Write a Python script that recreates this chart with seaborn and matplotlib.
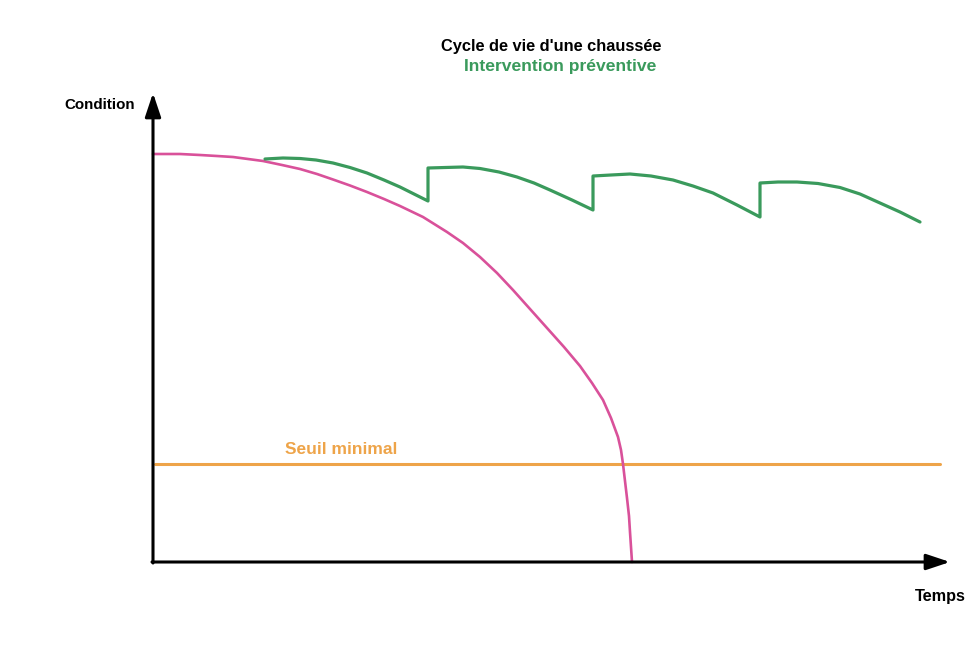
import matplotlib
matplotlib.use("Agg")
import matplotlib.pyplot as plt
import seaborn as sns
import pandas as pd

# ---- data (time, condition units) ----
pink_t = [0, 27, 47, 64, 80, 95, 110, 129, 147, 164, 180, 197, 214, 231, 247, 270,
          294, 310, 327, 344, 360, 377, 394, 411, 427, 439, 450, 458, 465, 468,
          470, 472, 474, 476, 477, 478, 479]
pink_c = [408, 408, 407, 406, 405, 403, 401, 397, 393, 388, 382.5, 376.5, 370, 363, 356, 345,
          330, 319, 305, 289, 272, 253, 234, 215, 196, 179, 162, 144, 125, 112,
          98, 81, 64, 46, 30, 15, 0]

green_t = [112, 130, 147, 163, 180, 197, 214, 231, 247, 261, 275,
           275, 292, 310, 327, 346, 364, 381, 397, 419, 440,
           440, 458, 477, 498, 520, 540, 560, 584, 607,
           607, 625, 644, 665, 687, 707, 727, 747, 767]
green_c = [403, 404, 403.5, 402, 399, 394.5, 389, 382, 375, 368, 361,
           394, 394.5, 395, 393.5, 390, 385, 379, 372, 362, 352,
           386, 387, 388, 386, 382, 376, 369, 357, 345,
           379, 380, 380, 378.5, 374.5, 368, 359, 350, 340]

seuil_t = [2, 787]
seuil_c = [98, 98]

title_text = "Cycle de vie d'une chaussée"
green_label = "Intervention préventive"
seuil_label = "Seuil minimal"
y_label = "Condition"
x_label = "Temps"

# ---- styling ----
sns.set_theme(style="white")
plt.rcParams['font.family'] = ['Liberation Sans', 'DejaVu Sans']

PINK = "#D9519A"
GREEN = "#3A9A5C"
ORANGE = "#EEA449"

fig = plt.figure(figsize=(9.66, 6.49), dpi=100)
ax = fig.add_axes([0, 0, 1, 1])

pink_df = pd.DataFrame({"t": pink_t, "c": pink_c})
green_df = pd.DataFrame({"t": green_t, "c": green_c})
seuil_df = pd.DataFrame({"t": seuil_t, "c": seuil_c})

sns.lineplot(data=seuil_df, x="t", y="c", ax=ax, color=ORANGE, lw=2.2,
             sort=False, estimator=None)
sns.lineplot(data=pink_df, x="t", y="c", ax=ax, color=PINK, lw=1.9,
             sort=False, estimator=None)
sns.lineplot(data=green_df, x="t", y="c", ax=ax, color=GREEN, lw=2.3,
             sort=False, estimator=None)
ax.set_xlim(-153, 813)
ax.set_ylim(-87, 562)
ax.axis('off')

# axes with arrows
arrow_style = dict(arrowstyle='-|>,head_length=1.2,head_width=0.4', lw=2.2,
                   color='black', shrinkA=0, shrinkB=0)
ax.annotate('', xy=(0, 469), xytext=(0, -1), arrowprops=arrow_style)
ax.annotate('', xy=(797, 0), xytext=(-1, 0), arrowprops=arrow_style)

# texts
ax.text(398, 516, title_text, ha='center', va='center', fontsize=11.8,
        fontweight='bold', color='black')
ax.text(407, 495, green_label, ha='center', va='center', fontsize=12.6,
        fontweight='bold', color=GREEN)
ax.text(-53, 457, y_label, ha='center', va='center', fontsize=10.9,
        fontweight='bold', color='black')
ax.text(787, -35, x_label, ha='center', va='center', fontsize=11.7,
        fontweight='bold', color='black')
ax.text(188, 112, seuil_label, ha='center', va='center', fontsize=12.5,
        fontweight='bold', color=ORANGE)

fig.savefig("out.png", dpi=100)
